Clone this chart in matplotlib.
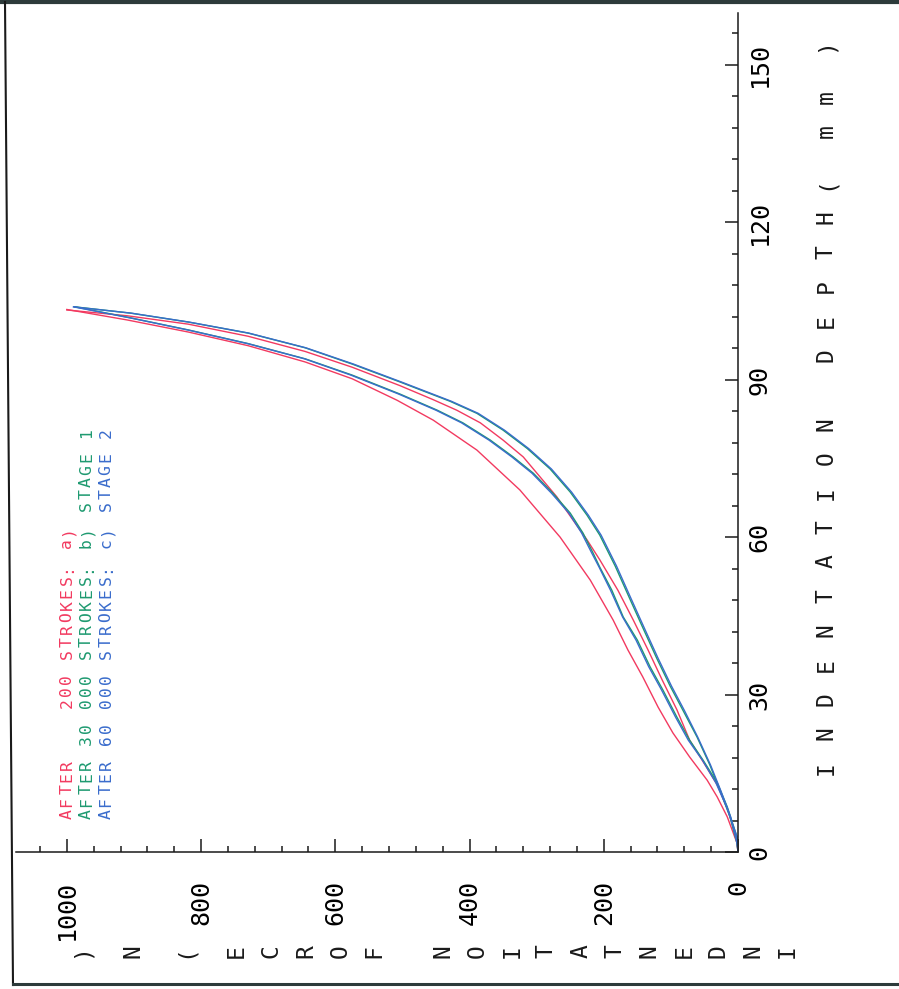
import matplotlib.pyplot as plt
from matplotlib.lines import Line2D
from matplotlib.ticker import MultipleLocator

# figure size in pixels (dpi 100)
W, H = 899, 989

# ---- data: force (N) vs indentation depth (mm), loading + unloading per test ----
red_load_f = [0, 1.5, 16, 31, 46, 72, 97, 119, 142, 164, 186, 220, 265, 325, 389, 454, 508, 575, 645, 730, 819, 910, 1000]
red_load_d = [0, 1.7, 6.7, 10.5, 13.7, 18.1, 22.7, 27.6, 33.4, 38.5, 44.2, 51.8, 60.0, 69.0, 76.6, 82.3, 86.1, 90.2, 93.4, 96.5, 99.1, 101.4, 103.4]
red_unload_f = [0, 1.5, 15, 31, 49, 72, 91, 113, 134, 156, 179, 206, 225, 246, 270, 295, 320, 350, 384, 419, 454, 504, 575, 645, 730, 819, 910, 1000]
red_unload_d = [0, 2.3, 8.0, 12.8, 16.6, 21.3, 27.1, 32.8, 38.5, 44.2, 49.9, 55.7, 59.5, 63.3, 67.7, 71.5, 75.3, 78.5, 81.8, 84.2, 86.2, 88.9, 92.4, 95.4, 98.3, 100.6, 102.2, 103.3]

green_load_f = [0, 1.5, 16, 31, 52, 72, 91, 112, 131, 150, 171, 188, 206, 216, 231, 250, 276, 305, 335, 369, 410, 448, 504, 575, 645, 730, 819, 905, 988]
green_load_d = [0, 2.9, 8.6, 13.2, 17.5, 21.3, 25.7, 30.9, 35.3, 40.4, 44.8, 49.9, 54.3, 57.0, 60.8, 64.6, 68.4, 72.2, 75.3, 78.5, 81.8, 84.2, 87.3, 90.9, 94.0, 96.9, 99.5, 101.8, 103.9]
green_unload_f = [0, 1.5, 12, 27, 42, 61, 82, 101, 121, 142, 161, 183, 206, 225, 250, 280, 314, 350, 389, 429, 504, 575, 645, 730, 819, 905, 988]
green_unload_d = [0, 1.7, 6.7, 11.8, 16.6, 21.9, 27.0, 31.6, 36.9, 42.8, 48.2, 54.5, 60.4, 64.2, 68.6, 73.0, 76.9, 80.4, 83.6, 85.9, 89.6, 93.0, 96.1, 98.9, 101.0, 102.7, 103.9]

blue_load_f = [0, 1.5, 17, 33, 53, 74, 93, 114, 133, 152, 172, 190, 207, 218, 233, 252, 278, 307, 337, 371, 412, 450, 506, 577, 646, 731, 820, 906, 990]
blue_load_d = [0, 2.9, 8.6, 13.2, 17.5, 21.3, 25.7, 30.9, 35.3, 40.4, 44.8, 49.9, 54.3, 57.0, 60.8, 64.6, 68.4, 72.2, 75.3, 78.5, 81.8, 84.2, 87.3, 90.9, 94.0, 96.9, 99.5, 101.8, 103.9]
blue_unload_f = [0, 1.5, 11, 26, 41, 60, 80, 99, 119, 140, 159, 181, 204, 223, 248, 278, 312, 348, 387, 427, 502, 573, 644, 729, 818, 904, 990]
blue_unload_d = [0, 1.7, 6.7, 11.8, 16.6, 21.9, 27.0, 31.6, 36.9, 42.8, 48.2, 54.5, 60.4, 64.2, 68.6, 73.0, 76.9, 80.4, 83.6, 85.9, 89.6, 93.0, 96.1, 98.9, 101.0, 102.7, 103.9]

legend_lines = ["AFTER    200 STROKES: a)",
                "AFTER 30 000 STROKES: b) STAGE 1",
                "AFTER 60 000 STROKES: c) STAGE 2"]

force_ticks = [0, 200, 400, 600, 800, 1000]
depth_ticks = [0, 30, 60, 90, 120, 150]

RED = '#f23a60'
GREEN = '#1e9a70'
BLUE = '#3a6ccc'
INK = '#1a1a1a'
MONO = 'DejaVu Sans Mono'


def fx(x):
    return x / W


def fy(y):
    return 1 - y / H


fig = plt.figure(figsize=(W / 100, H / 100), dpi=100)

# axes placed so that force 0 sits at x=738 px and depth 0 at y=852 px
left, right, top, bottom = 16.5, 738, 12.5, 852
ax = fig.add_axes([fx(left), fy(bottom), (right - left) / W, (bottom - top) / H])
ax.set_xlim(1075, 0)
ax.set_ylim(0, 160)

for f, d, c in [(red_load_f, red_load_d, RED), (red_unload_f, red_unload_d, RED),
                (green_load_f, green_load_d, GREEN), (green_unload_f, green_unload_d, GREEN),
                (blue_load_f, blue_load_d, BLUE), (blue_unload_f, blue_unload_d, BLUE)]:
    ax.plot(f, d, color=c, lw=1.0)

# spines / ticks
for s in ['left', 'top']:
    ax.spines[s].set_visible(False)
for s in ['right', 'bottom']:
    ax.spines[s].set_linewidth(1.1)
    ax.spines[s].set_color(INK)

ax.yaxis.tick_right()
ax.set_xticks(force_ticks)
ax.set_yticks(depth_ticks)
ax.xaxis.set_minor_locator(MultipleLocator(40))
ax.yaxis.set_minor_locator(MultipleLocator(6))
ax.tick_params(which='both', direction='in', width=1.1, color=INK)
ax.tick_params(which='major', length=9.5)
ax.tick_params(which='minor', length=4.5)
ax.tick_params(axis='x', pad=20, labelrotation=90, labelsize=18)
ax.tick_params(axis='y', pad=7, labelrotation=90, labelsize=18)
for lab in ax.get_xticklabels() + ax.get_yticklabels():
    lab.set_family(MONO)
for lab in ax.get_yticklabels():
    lab.set_va('center')
ax.patch.set_alpha(0)


# plotter style text: one rotated glyph per slot
def spaced(text, x0, y0, dx, dy, size, color=INK):
    for i, ch in enumerate(text):
        if ch != ' ':
            fig.text(fx(x0 + i * dx), fy(y0 + i * dy), ch, rotation=90,
                     ha='center', va='center', fontsize=size, family=MONO, color=color)


# legend (reads upward)
for txt, c, xc in zip(legend_lines, [RED, GREEN, BLUE], [67, 86.5, 106]):
    spaced(txt, xc, 814, 0, -12.3, 11.8, c)

# axis titles
spaced("I N D E N T A T I O N   F O R C E  (  N  )", 787, 951, -17.2, 0, 16.5)
spaced("I N D E N T A T I O N   D E P T H (  m m  )", 826, 768, 0, -17.2, 16.5)

# page frame from the scan
fig.add_artist(Line2D([0, 1], [fy(2), fy(2)], transform=fig.transFigure, color='#2d3b3b', lw=3))
fig.add_artist(Line2D([fx(5), fx(13)], [fy(2), fy(985)], transform=fig.transFigure, color=INK, lw=1.5))
fig.add_artist(Line2D([fx(13), 1], [fy(984), fy(984)], transform=fig.transFigure, color='#2d3b3b', lw=2.2))

fig.savefig('out.png', dpi=100)
